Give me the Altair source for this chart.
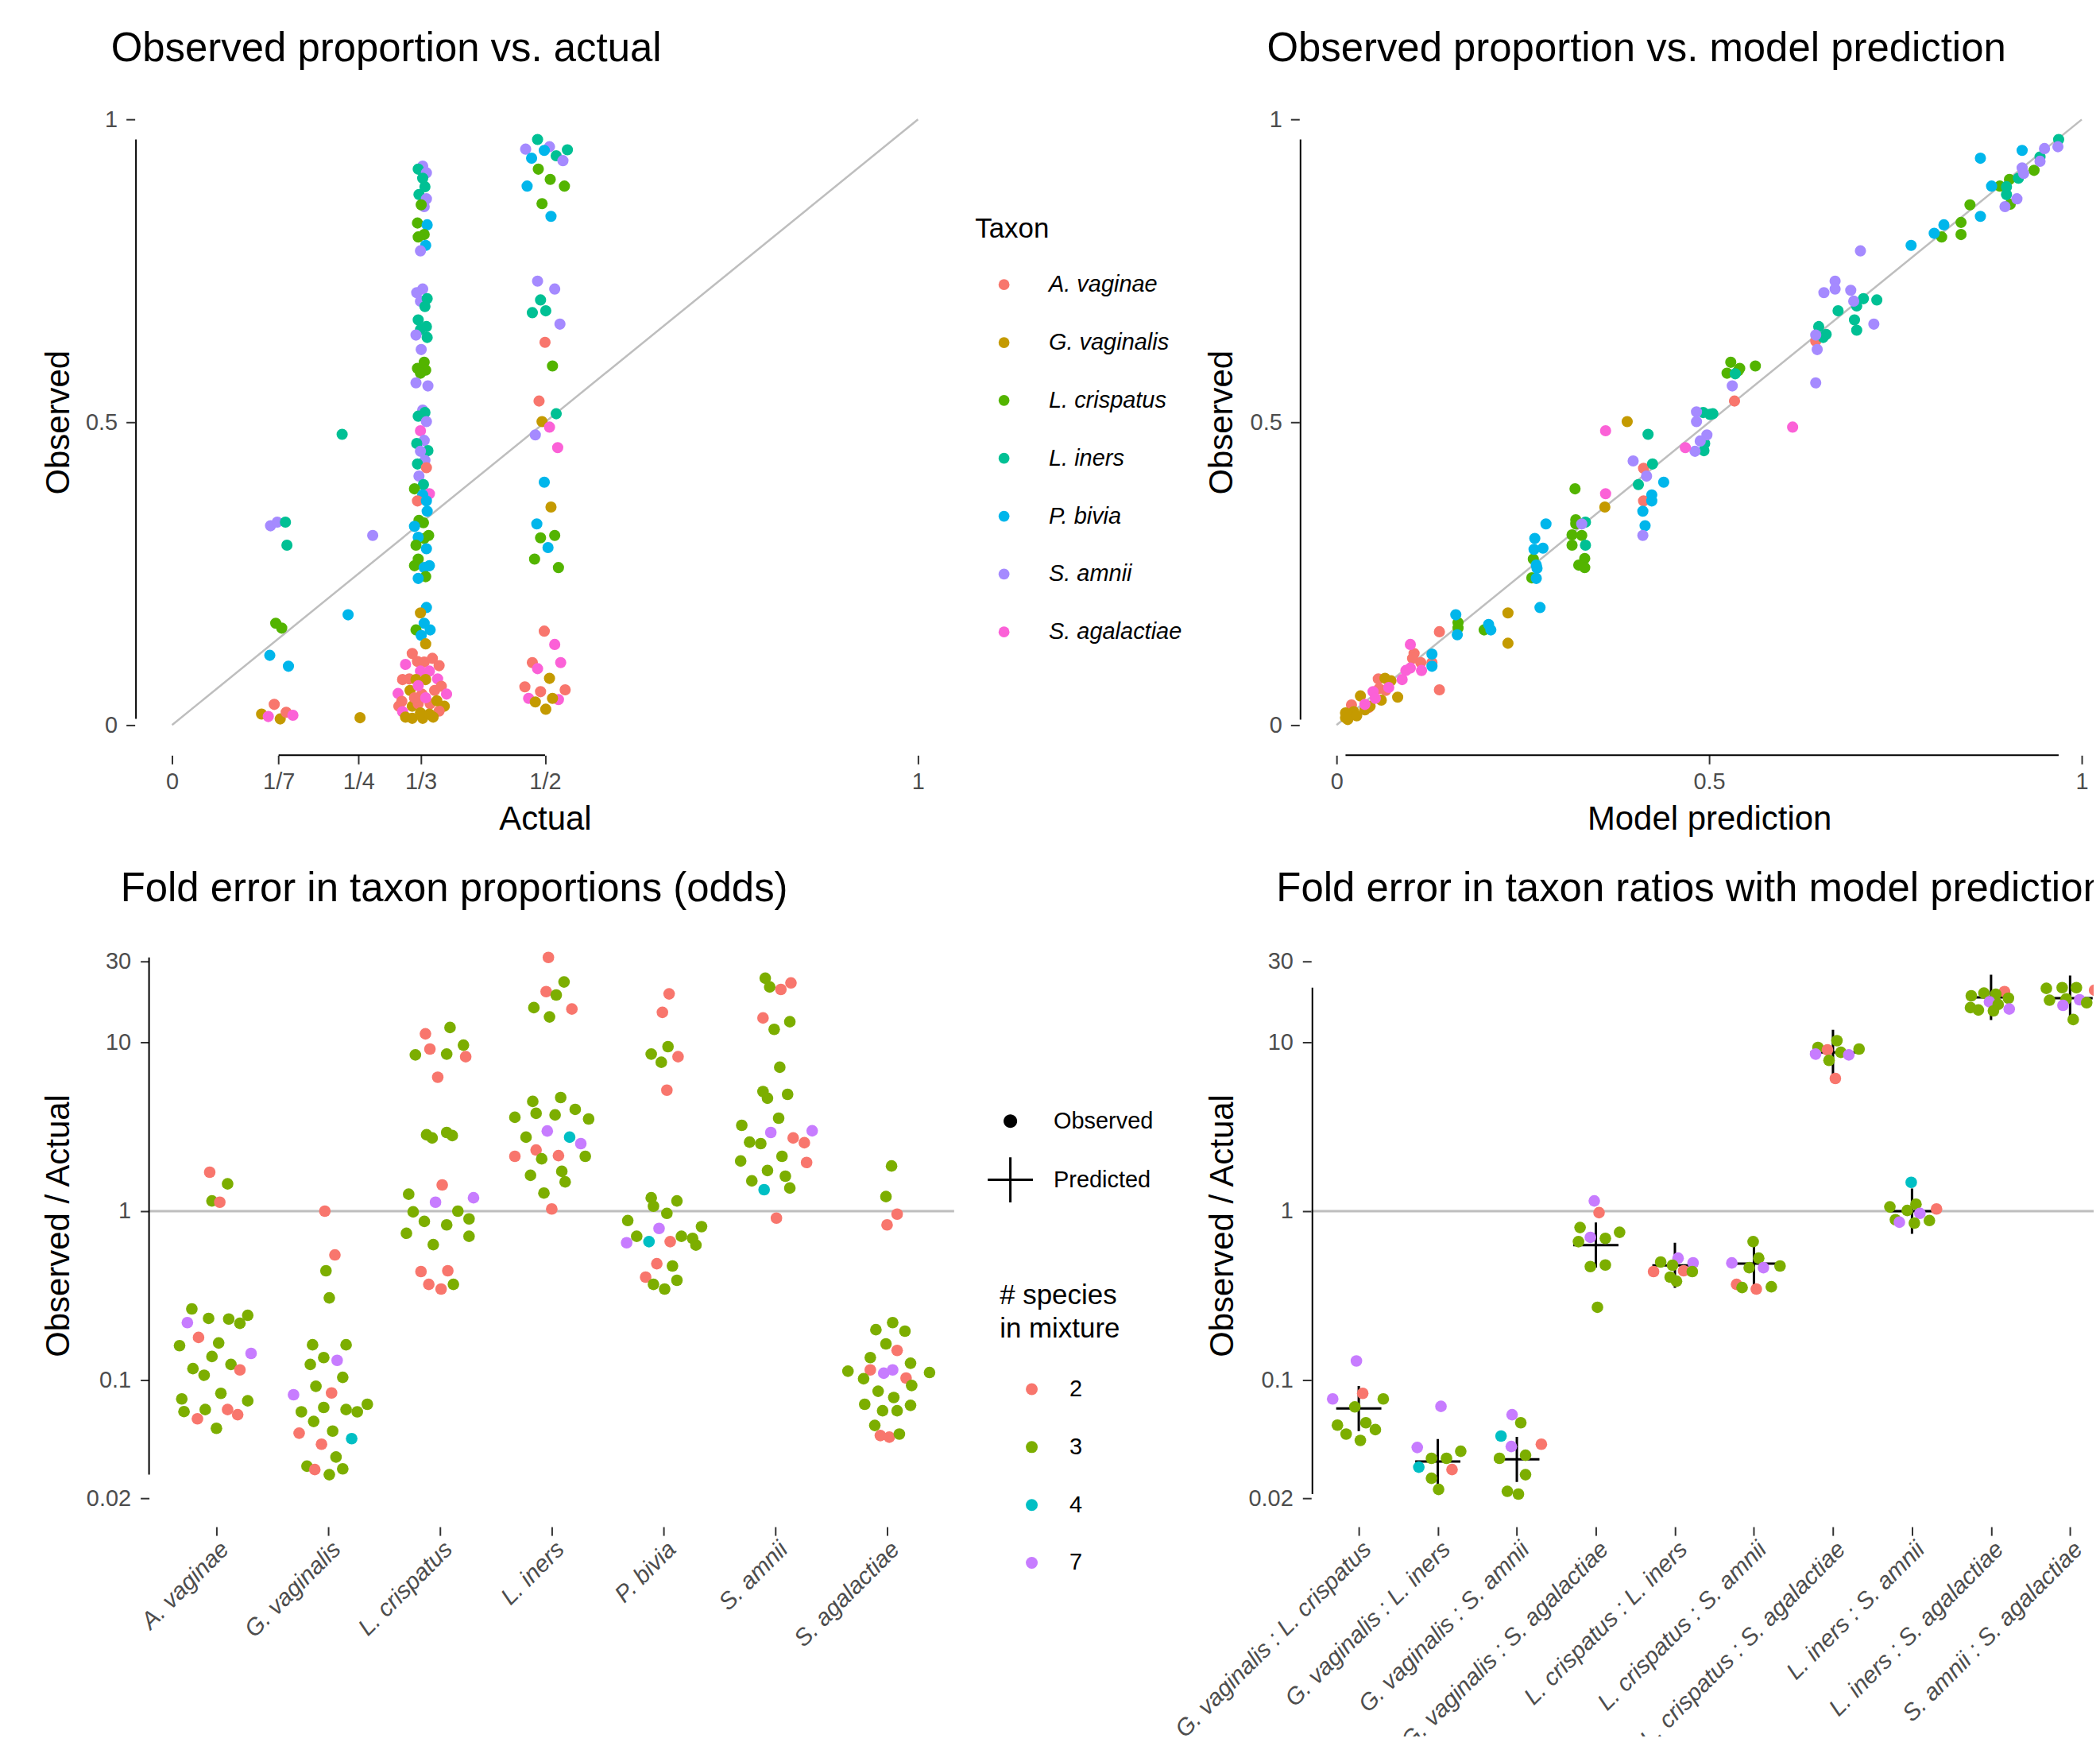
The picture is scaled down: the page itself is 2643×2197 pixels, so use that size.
import altair as alt
import pandas as pd

FONT = "Liberation Sans"
LABEL_GREY = "#4D4D4D"
TICK_GREY = "#333333"
REF_GREY = "#BEBEBE"

# ---------------- categories / palettes ----------------
taxa = ["A. vaginae", "G. vaginalis", "L. crispatus", "L. iners", "P. bivia", "S. amnii", "S. agalactiae"]
taxon_codes = ["AV", "GV", "LC", "LI", "PB", "SA", "SG"]
taxon_colors = ["#F8766D", "#C49A00", "#53B400", "#00C094", "#00B6EB", "#A58AFF", "#FB61D7"]
species_levels = ["2", "3", "4", "7"]
species_colors = ["#F8766D", "#7CAE00", "#00BFC4", "#C77CFF"]
ratios = ["G. vaginalis : L. crispatus", "G. vaginalis : L. iners", "G. vaginalis : S. amnii",
          "G. vaginalis : S. agalactiae", "L. crispatus : L. iners", "L. crispatus : S. amnii",
          "L. crispatus : S. agalactiae", "L. iners : S. amnii", "L. iners : S. agalactiae",
          "S. amnii : S. agalactiae"]
kinds = ["Observed", "Predicted"]
actual_ticks = [0, 1/7, 1/4, 1/3, 1/2, 1]
fold_ticks = [0.02, 0.1, 1, 10, 30]

# ---------------- panel 1: observed vs actual (jittered actual) ----------------
a17_taxon = ["SA", "SA", "LI", "LI", "LC", "LC", "PB", "PB", "AV", "GV", "SG", "GV", "AV", "SG"]
a17_x = [0.132, 0.141, 0.152, 0.154, 0.139, 0.147, 0.131, 0.156, 0.137, 0.120, 0.129, 0.145, 0.153, 0.162]
a17_obs = [0.329, 0.335, 0.335, 0.297, 0.168, 0.160, 0.115, 0.097, 0.034, 0.018, 0.014, 0.010, 0.021, 0.016]

a14_taxon = ["LI", "SA", "PB", "GV"]
a14_x = [0.228, 0.269, 0.236, 0.252]
a14_obs = [0.480, 0.313, 0.182, 0.012]

a13_taxon = ["SA", "LI", "SA", "LI", "LI", "LI", "SA", "SA", "LC", "LC",
             "PB", "LC", "LC", "PB", "SA", "SA", "SA", "SA", "LI", "LI",
             "LI", "LI", "LI", "SA", "LI", "SA", "LC", "LC", "LC", "LC",
             "SA", "SA", "SA", "LI", "LI", "SA", "SG", "SA", "LI", "LI",
             "SA", "SA", "LI", "AV", "SA", "LI", "LC", "SG", "PB", "AV",
             "PB", "PB", "LC", "LC", "PB", "LC", "LC", "PB", "LC", "PB",
             "LC", "LC", "PB", "PB", "LC", "PB", "PB", "GV", "PB", "LC",
             "PB", "PB", "GV",
             "AV", "AV", "AV", "AV", "AV", "SG", "SG", "SG", "AV", "AV",
             "GV", "GV", "SG", "SG", "GV", "AV", "AV", "AV", "SG", "AV",
             "AV", "GV", "AV", "AV", "GV", "SG", "AV", "GV", "GV", "GV",
             "GV", "GV", "GV", "SG", "AV", "GV", "SG"]
a13_x = [0.336, 0.330, 0.341, 0.336, 0.339, 0.331, 0.341, 0.338, 0.334, 0.329,
         0.342, 0.338, 0.330, 0.340, 0.333, 0.336, 0.328, 0.333, 0.342, 0.339,
         0.330, 0.341, 0.333, 0.327, 0.342, 0.334, 0.338, 0.329, 0.340, 0.333,
         0.327, 0.343, 0.336, 0.339, 0.330, 0.341, 0.333, 0.338, 0.328, 0.343,
         0.333, 0.339, 0.329, 0.341, 0.331, 0.337, 0.325, 0.345, 0.336, 0.329,
         0.341, 0.342, 0.331, 0.337, 0.325, 0.344, 0.338, 0.330, 0.327, 0.341,
         0.330, 0.325, 0.345, 0.338, 0.340, 0.330, 0.341, 0.333, 0.338, 0.327,
         0.346, 0.334, 0.340,
         0.322, 0.329, 0.338, 0.349, 0.358, 0.313, 0.333, 0.345, 0.309, 0.318,
         0.327, 0.340, 0.356, 0.303, 0.319, 0.335, 0.352, 0.361, 0.368, 0.308,
         0.304, 0.322, 0.330, 0.346, 0.365, 0.309, 0.358, 0.313, 0.322, 0.336,
         0.350, 0.333, 0.345, 0.330, 0.325, 0.355, 0.340]
a13_obs = [0.923, 0.918, 0.912, 0.903, 0.889, 0.876, 0.869, 0.856, 0.859, 0.829,
           0.826, 0.810, 0.806, 0.792, 0.783, 0.720, 0.714, 0.700, 0.704, 0.691,
           0.669, 0.658, 0.653, 0.644, 0.640, 0.620, 0.599, 0.589, 0.586, 0.581,
           0.565, 0.560, 0.520, 0.516, 0.510, 0.501, 0.486, 0.470, 0.465, 0.453,
           0.452, 0.437, 0.431, 0.425, 0.411, 0.397, 0.390, 0.382, 0.380, 0.370,
           0.370, 0.353, 0.338, 0.334, 0.328, 0.313, 0.308, 0.310, 0.297, 0.291,
           0.274, 0.263, 0.263, 0.260, 0.245, 0.242, 0.194, 0.185, 0.168, 0.157,
           0.157, 0.148, 0.134,
           0.118, 0.105, 0.104, 0.110, 0.098, 0.100, 0.089, 0.089, 0.075, 0.076,
           0.075, 0.075, 0.076, 0.052, 0.057, 0.051, 0.057, 0.064, 0.051, 0.039,
           0.031, 0.031, 0.035, 0.035, 0.031, 0.022, 0.023, 0.013, 0.011, 0.011,
           0.013, 0.020, 0.018, 0.065, 0.045, 0.040, 0.045]

a12_taxon = ["LI", "SA", "SA", "PB", "LI", "PB", "LI", "SA", "LC", "LC",
             "LC", "PB", "LC", "PB", "SA", "SA", "LI", "LI", "LI", "SA",
             "AV", "LC", "AV", "LI", "GV", "SG", "SA", "SG", "PB", "GV",
             "PB", "LC", "LC", "PB", "LC", "LC", "AV", "SG", "SG", "AV",
             "SG", "GV", "AV", "AV", "AV", "SG", "SG", "GV", "GV", "GV"]
a12_x = [0.490, 0.474, 0.506, 0.499, 0.530, 0.482, 0.515, 0.524, 0.491, 0.507,
         0.526, 0.476, 0.496, 0.508, 0.490, 0.513, 0.494, 0.483, 0.501, 0.520,
         0.500, 0.510, 0.492, 0.515, 0.496, 0.506, 0.487, 0.517, 0.499, 0.508,
         0.489, 0.494, 0.513, 0.504, 0.486, 0.518, 0.499, 0.513, 0.521, 0.483,
         0.490, 0.506, 0.473, 0.494, 0.527, 0.478, 0.518, 0.487, 0.510, 0.501]
a12_obs = [0.967, 0.951, 0.955, 0.949, 0.950, 0.936, 0.940, 0.932, 0.918, 0.901,
           0.890, 0.890, 0.861, 0.840, 0.733, 0.720, 0.702, 0.681, 0.684, 0.662,
           0.632, 0.593, 0.535, 0.514, 0.501, 0.492, 0.479, 0.458, 0.401, 0.360,
           0.332, 0.309, 0.313, 0.293, 0.274, 0.260, 0.155, 0.133, 0.103, 0.103,
           0.093, 0.077, 0.063, 0.055, 0.058, 0.044, 0.042, 0.038, 0.044, 0.026]

# ---------------- panel 2: observed vs model prediction (per taxon) ----------------
pred_AV = [0.020, 0.043, 0.056, 0.057, 0.066, 0.104, 0.102, 0.113, 0.128, 0.138, 0.138, 0.412, 0.412, 0.534, 0.643]
obs_AV = [0.033, 0.029, 0.076, 0.060, 0.057, 0.118, 0.110, 0.103, 0.103, 0.154, 0.058, 0.424, 0.370, 0.535, 0.634]
pred_GV = [0.012, 0.018, 0.023, 0.012, 0.032, 0.038, 0.065, 0.073, 0.060, 0.082, 0.230, 0.230, 0.390, 0.360, 0.015, 0.027, 0.045]
obs_GV = [0.012, 0.016, 0.022, 0.020, 0.048, 0.025, 0.077, 0.073, 0.041, 0.046, 0.185, 0.135, 0.501, 0.360, 0.009, 0.015, 0.031]
pred_LC = [0.163, 0.163, 0.198, 0.264, 0.262, 0.320, 0.321, 0.321, 0.316, 0.329, 0.316, 0.333, 0.325, 0.333,
           0.524, 0.529, 0.541, 0.539, 0.562, 0.812, 0.838, 0.838, 0.850, 0.890, 0.903, 0.904, 0.936]
obs_LC = [0.169, 0.160, 0.157, 0.274, 0.243, 0.390, 0.339, 0.332, 0.314, 0.313, 0.297, 0.275, 0.264, 0.260,
          0.581, 0.599, 0.589, 0.585, 0.593, 0.806, 0.830, 0.810, 0.859, 0.890, 0.901, 0.860, 0.916]
pred_LI = [0.334, 0.334, 0.418, 0.424, 0.405, 0.492, 0.501, 0.494, 0.493, 0.505, 0.535, 0.647, 0.657, 0.653,
           0.673, 0.698, 0.707, 0.725, 0.695, 0.698, 0.899, 0.899, 0.915, 0.944, 0.969]
obs_LI = [0.335, 0.297, 0.480, 0.431, 0.397, 0.516, 0.513, 0.465, 0.453, 0.514, 0.580, 0.658, 0.645, 0.640,
          0.684, 0.692, 0.704, 0.702, 0.669, 0.652, 0.889, 0.876, 0.903, 0.938, 0.967]
pred_PB = [0.128, 0.128, 0.160, 0.162, 0.204, 0.207, 0.273, 0.281, 0.266, 0.265, 0.277, 0.268, 0.269, 0.268,
           0.439, 0.423, 0.423, 0.411, 0.414, 0.771, 0.802, 0.815, 0.864, 0.864, 0.879, 0.920]
obs_PB = [0.117, 0.097, 0.182, 0.149, 0.166, 0.157, 0.194, 0.332, 0.308, 0.290, 0.292, 0.264, 0.259, 0.242,
          0.401, 0.380, 0.370, 0.353, 0.329, 0.792, 0.812, 0.826, 0.840, 0.936, 0.890, 0.949]
pred_SA = [0.329, 0.398, 0.416, 0.411, 0.483, 0.483, 0.497, 0.488, 0.481, 0.531, 0.643, 0.645, 0.643, 0.654,
           0.669, 0.669, 0.690, 0.694, 0.721, 0.703, 0.897, 0.913, 0.920, 0.922, 0.944, 0.950, 0.968]
obs_SA = [0.332, 0.436, 0.411, 0.313, 0.517, 0.501, 0.479, 0.469, 0.452, 0.560, 0.644, 0.620, 0.565, 0.714,
          0.733, 0.720, 0.718, 0.700, 0.662, 0.783, 0.856, 0.869, 0.920, 0.911, 0.931, 0.952, 0.955]
pred_SG = [0.038, 0.049, 0.052, 0.088, 0.093, 0.099, 0.099, 0.114, 0.361, 0.361, 0.468, 0.612, 0.070]
obs_SG = [0.034, 0.055, 0.044, 0.075, 0.090, 0.094, 0.133, 0.090, 0.486, 0.382, 0.458, 0.492, 0.062]

# ---------------- panel 3: fold error in proportions (jitter offset, fold, # species) ----------------
off_AV = [-0.06, 0.10, -0.04, 0.03, -0.22, -0.26, -0.07, 0.11, 0.21, 0.28, -0.16, -0.33, 0.02, 0.31, -0.04,
          -0.21, 0.13, -0.11, 0.21, 0.04, -0.31, 0.28, -0.29, -0.10, 0.10, -0.17, 0.19, 0.00]
fold_AV = [1.70, 1.45, 1.15, 1.13, 0.264, 0.219, 0.232, 0.230, 0.217, 0.242, 0.179, 0.160, 0.166, 0.144, 0.138,
           0.117, 0.124, 0.107, 0.115, 0.0836, 0.0775, 0.0755, 0.0652, 0.067, 0.067, 0.0591, 0.0625, 0.0519]
n_AV = [2, 3, 3, 2, 3, 7, 3, 3, 3, 3, 2, 3, 3, 7, 3, 3, 3, 3, 2, 3, 3, 3, 3, 3, 2, 2, 2, 3]

off_GV = [-0.03, 0.06, -0.02, 0.01, -0.14, 0.16, -0.04, 0.08, -0.16, 0.13, -0.11, -0.31, 0.03, -0.24, -0.04,
          0.16, 0.26, 0.35, -0.13, -0.26, 0.04, 0.21, -0.06, 0.07, -0.19, -0.12, 0.13, 0.01]
fold_GV = [1.0, 0.551, 0.444, 0.307, 0.162, 0.162, 0.136, 0.131, 0.124, 0.104, 0.092, 0.082, 0.084, 0.065, 0.069,
           0.067, 0.065, 0.072, 0.057, 0.0486, 0.050, 0.0451, 0.0418, 0.0351, 0.0310, 0.0296, 0.0299, 0.0276]
n_GV = [2, 2, 3, 3, 3, 3, 3, 7, 3, 3, 3, 7, 2, 3, 3, 3, 3, 3, 3, 2, 3, 4, 2, 3, 3, 2, 3, 3]

off_LC = [-0.13, 0.09, -0.09, 0.21, -0.22, 0.06, 0.23, -0.02, -0.12, -0.07, 0.06, 0.11, 0.02, -0.28, -0.04,
          0.30, -0.24, 0.16, -0.14, 0.26, 0.06, -0.30, 0.26, -0.06, -0.17, 0.07, -0.10, 0.12, 0.01]
fold_LC = [11.2, 12.2, 9.1, 9.6, 8.4, 8.5, 8.2, 6.2, 2.83, 2.71, 2.92, 2.80, 1.43, 1.26, 1.13,
           1.20, 0.99, 1.0, 0.87, 0.90, 0.83, 0.74, 0.71, 0.634, 0.439, 0.444, 0.369, 0.369, 0.346]
n_LC = [2, 3, 2, 3, 3, 3, 2, 2, 3, 3, 3, 3, 2, 3, 7, 7, 3, 3, 3, 3, 3, 3, 3, 3, 2, 2, 2, 3, 2]

off_LI = [-0.03, -0.05, 0.04, -0.16, -0.02, 0.11, 0.18, 0.08, -0.17, 0.21, -0.33, -0.14, 0.03, 0.33, -0.04,
          -0.23, 0.16, 0.26, -0.14, -0.33, 0.06, -0.09, 0.30, -0.19, 0.09, 0.12, -0.07, 0.00]
fold_LI = [31.7, 19.9, 19.0, 16.0, 14.1, 22.7, 15.7, 4.70, 4.46, 4.0, 3.59, 3.79, 3.71, 3.51, 2.98,
           2.74, 2.74, 2.51, 2.30, 2.11, 2.13, 2.04, 2.11, 1.63, 1.72, 1.49, 1.28, 1.03]
n_LI = [2, 2, 3, 3, 3, 3, 2, 3, 3, 3, 3, 3, 3, 3, 7, 3, 4, 7, 2, 2, 2, 3, 3, 3, 3, 3, 3, 2]

off_PB = [0.05, -0.01, 0.04, -0.11, 0.13, -0.02, 0.03, -0.11, -0.09, 0.12, 0.03, -0.32, -0.04, -0.24, -0.33,
          -0.13, 0.06, 0.16, 0.26, 0.34, 0.29, -0.06, 0.08, -0.16, 0.12, -0.09, 0.01]
fold_PB = [19.3, 15.0, 9.4, 8.5, 8.2, 7.6, 5.2, 1.20, 1.07, 1.15, 0.97, 0.88, 0.79, 0.71, 0.65,
           0.66, 0.66, 0.71, 0.69, 0.81, 0.63, 0.489, 0.474, 0.407, 0.390, 0.369, 0.346]
n_PB = [2, 2, 3, 3, 2, 3, 2, 3, 3, 3, 3, 3, 7, 3, 7, 4, 2, 3, 3, 3, 3, 2, 3, 2, 3, 3, 3]

off_SA = [-0.09, -0.05, 0.05, 0.14, -0.11, 0.13, -0.01, 0.04, -0.11, -0.07, 0.11, 0.03, -0.30, -0.04, 0.16,
          0.33, 0.26, -0.23, -0.13, -0.31, 0.06, 0.28, -0.07, -0.21, 0.09, -0.10, 0.13, 0.01]
fold_SA = [23.9, 21.2, 20.5, 22.4, 13.9, 13.2, 11.9, 7.1, 5.1, 4.66, 4.91, 3.55, 3.22, 2.92, 2.71,
           2.99, 2.54, 2.56, 2.51, 1.98, 2.11, 1.94, 1.74, 1.51, 1.61, 1.34, 1.37, 0.91]
n_SA = [3, 3, 2, 2, 2, 3, 3, 3, 3, 3, 3, 3, 3, 7, 2, 7, 2, 3, 3, 3, 3, 2, 3, 3, 3, 4, 3, 2]

off_SG = [0.04, -0.01, 0.09, 0.00, 0.05, -0.10, 0.16, -0.01, 0.09, -0.15, 0.21, -0.35, -0.15, -0.03, 0.05,
          0.38, -0.21, 0.17, 0.22, -0.08, 0.06, -0.20, 0.21, -0.04, 0.09, -0.11, -0.06, 0.02, 0.11]
fold_SG = [1.85, 1.22, 0.96, 0.83, 0.219, 0.199, 0.195, 0.164, 0.150, 0.136, 0.126, 0.113, 0.115, 0.110, 0.115,
           0.111, 0.102, 0.103, 0.093, 0.086, 0.079, 0.072, 0.071, 0.066, 0.066, 0.054, 0.047, 0.046, 0.048]
n_SG = [3, 3, 2, 2, 3, 3, 3, 3, 2, 3, 3, 3, 2, 7, 7, 3, 3, 2, 3, 3, 3, 3, 3, 3, 3, 3, 2, 2, 3]

# ---------------- panel 4: fold error in ratios (jitter offset, fold, # species) + prediction ----------------
off_r1 = [-0.03, -0.33, 0.05, 0.31, -0.05, -0.27, 0.09, 0.21, -0.16, 0.02]
fold_r1 = [0.130, 0.0775, 0.0836, 0.0775, 0.0695, 0.0542, 0.056, 0.051, 0.048, 0.044]
n_r1 = [7, 7, 2, 3, 3, 3, 3, 3, 3, 3]
off_r2 = [0.04, -0.26, 0.29, -0.08, 0.11, -0.24, 0.18, -0.08, 0.01]
fold_r2 = [0.070, 0.040, 0.038, 0.0345, 0.0345, 0.0306, 0.0296, 0.0263, 0.0226]
n_r2 = [7, 7, 3, 3, 3, 4, 2, 3, 3]
off_r3 = [-0.06, 0.05, -0.20, -0.07, 0.31, -0.22, 0.11, 0.11, -0.12, 0.02]
fold_r3 = [0.0625, 0.056, 0.0467, 0.0405, 0.0418, 0.0345, 0.036, 0.0276, 0.022, 0.0212]
n_r3 = [7, 3, 4, 7, 2, 3, 3, 3, 3, 3]
off_r4 = [-0.02, 0.04, -0.20, 0.30, -0.07, 0.12, -0.22, -0.07, 0.12, 0.02]
fold_r4 = [1.15, 0.98, 0.80, 0.75, 0.70, 0.69, 0.66, 0.47, 0.48, 0.27]
n_r4 = [7, 2, 3, 3, 7, 3, 3, 3, 3, 3]
off_r5 = [0.04, 0.23, -0.18, -0.03, -0.27, 0.11, 0.22, -0.06, 0.02]
fold_r5 = [0.527, 0.495, 0.50, 0.479, 0.439, 0.444, 0.439, 0.407, 0.385]
n_r5 = [7, 7, 3, 3, 2, 2, 3, 3, 3]
off_r6 = [-0.01, -0.28, 0.06, -0.06, 0.12, 0.33, -0.22, -0.15, 0.03, 0.22]
fold_r6 = [0.66, 0.494, 0.527, 0.463, 0.463, 0.474, 0.369, 0.353, 0.346, 0.357]
n_r6 = [3, 7, 3, 3, 7, 3, 2, 3, 2, 3]
off_r7 = [-0.19, 0.05, -0.07, -0.22, 0.10, 0.20, 0.33, -0.05, 0.03]
fold_r7 = [9.3, 10.2, 9.0, 8.5, 8.7, 8.4, 9.1, 7.8, 6.1]
n_r7 = [3, 3, 2, 7, 3, 7, 3, 3, 2]
off_r8 = [-0.01, 0.05, -0.28, -0.06, 0.31, 0.10, -0.21, -0.16, 0.03, 0.22]
fold_r8 = [1.48, 1.10, 1.06, 1.01, 1.03, 0.97, 0.89, 0.86, 0.85, 0.88]
n_r8 = [4, 3, 3, 3, 2, 7, 3, 7, 3, 3]
off_r9 = [-0.25, -0.09, 0.17, 0.06, 0.22, -0.02, -0.26, -0.16, 0.09, 0.03, 0.23]
fold_r9 = [18.8, 19.5, 19.9, 19.2, 18.2, 17.3, 16.0, 15.5, 16.7, 15.3, 15.7]
n_r9 = [3, 3, 2, 3, 3, 7, 3, 3, 3, 3, 7]
off_r10 = [-0.30, -0.10, 0.08, 0.31, -0.26, -0.05, -0.09, 0.12, 0.21, 0.04]
fold_r10 = [20.8, 21.0, 21.0, 20.3, 17.7, 18.0, 16.5, 17.8, 17.1, 13.6]
n_r10 = [3, 3, 3, 2, 3, 3, 7, 7, 3, 3]
pred_ratio = [0.068, 0.033, 0.034, 0.63, 0.478, 0.49, 8.7, 1.0, 18.4, 18.2]

# ---------------- build tables ----------------
code_to_taxon = dict(zip(taxon_codes, taxa))

rows = []
for act, tx, xx, ob in [(1/7, a17_taxon, a17_x, a17_obs), (1/4, a14_taxon, a14_x, a14_obs),
                        (1/3, a13_taxon, a13_x, a13_obs), (1/2, a12_taxon, a12_x, a12_obs)]:
    assert len(tx) == len(xx) == len(ob)
    for t, x, o in zip(tx, xx, ob):
        rows.append({"taxon": code_to_taxon[t], "actual": act, "xj": x, "obs": o})
p1 = pd.DataFrame(rows)

rows = []
for code, pr, ob in [("AV", pred_AV, obs_AV), ("GV", pred_GV, obs_GV), ("LC", pred_LC, obs_LC),
                     ("LI", pred_LI, obs_LI), ("PB", pred_PB, obs_PB), ("SA", pred_SA, obs_SA),
                     ("SG", pred_SG, obs_SG)]:
    assert len(pr) == len(ob)
    for p, o in zip(pr, ob):
        rows.append({"taxon": code_to_taxon[code], "pred": p, "obs": o})
p2 = pd.DataFrame(rows)

rows = []
for i, (off, fold, nn) in enumerate([(off_AV, fold_AV, n_AV), (off_GV, fold_GV, n_GV), (off_LC, fold_LC, n_LC),
                                     (off_LI, fold_LI, n_LI), (off_PB, fold_PB, n_PB), (off_SA, fold_SA, n_SA),
                                     (off_SG, fold_SG, n_SG)]):
    assert len(off) == len(fold) == len(nn)
    for o, f, n in zip(off, fold, nn):
        rows.append({"cat": i + 1, "off": o, "fold": f, "n": str(n)})
p3 = pd.DataFrame(rows)

rows = []
ratio_sets = [(off_r1, fold_r1, n_r1), (off_r2, fold_r2, n_r2), (off_r3, fold_r3, n_r3), (off_r4, fold_r4, n_r4),
              (off_r5, fold_r5, n_r5), (off_r6, fold_r6, n_r6), (off_r7, fold_r7, n_r7), (off_r8, fold_r8, n_r8),
              (off_r9, fold_r9, n_r9), (off_r10, fold_r10, n_r10)]
for i, (off, fold, nn) in enumerate(ratio_sets):
    assert len(off) == len(fold) == len(nn)
    for o, f, n in zip(off, fold, nn):
        rows.append({"cat": i + 1, "off": o, "fold": f, "n": str(n)})
p4 = pd.DataFrame(rows)
p4pred = pd.DataFrame({"cat": list(range(1, 11)), "fold": pred_ratio, "kind": ["Predicted"] * 10})

diag = pd.DataFrame({"ref_a": [0, 1], "ref_b": [0, 1]})
hline3 = pd.DataFrame({"lo": [0.4], "hi": [7.6], "one": [1]})
hline4 = pd.DataFrame({"lo": [0.4], "hi": [10.6], "one": [1]})

# ---------------- geometry ----------------
W1, H1 = 1035, 840
W2 = 1034
W3, H3 = 1034, 747
W4 = 1032

unit_scale = alt.Scale(domain=[-0.05, 1.05], nice=False, zero=False)
fold_scale = alt.Scale(type="log", domain=[0.01358, 43.35], nice=False)
x3_scale = alt.Scale(domain=[0.2695, 7.603], nice=False, zero=False)
x4_scale = alt.Scale(domain=[0.2477, 10.599], nice=False, zero=False)

frac_expr = ("datum.value < 0.01 ? '0' : datum.value < 0.2 ? '1/7' : datum.value < 0.3 ? '1/4' : "
             "datum.value < 0.4 ? '1/3' : datum.value < 0.6 ? '1/2' : '1'")

def yaxis_unit(tx):
    return alt.Axis(values=[0, 0.5, 1], format="~g", tickSize=11, labelPadding=11,
                    titleX=tx, titleY=H1 / 2, titleAngle=270, titleBaseline="middle",
                    titleAlign="center", labelOverlap=False)

ax_x1 = alt.Axis(values=actual_ticks, labelExpr=frac_expr, labelOverlap=False, labelFlush=False,
                 tickSize=11, labelPadding=8, titleY=80, titleBaseline="middle")
ax_y1 = yaxis_unit(-96)
ax_x2 = alt.Axis(values=[0, 0.5, 1], format="~g", labelOverlap=False, labelFlush=False,
                 tickSize=11, labelPadding=8, titleY=80, titleBaseline="middle", titleX=517)
ax_y2 = yaxis_unit(-98)

def fold_axis(tx, off):
    return alt.Axis(values=fold_ticks, format="~g", tickSize=11, labelPadding=12, offset=off,
                    titleX=tx, titleY=367, titleAngle=270, titleBaseline="middle", titleAlign="center",
                    labelOverlap=False)

def cat_axis(names):
    arr = "[" + ",".join("'" + s + "'" for s in names) + "]"
    return alt.Axis(values=list(range(1, len(names) + 1)), labelExpr=arr + "[datum.value - 1]",
                    labelAngle=315, labelAlign="right", labelBaseline="top", labelFontStyle="italic",
                    labelFontSize=30, labelPadding=2, tickSize=11, labelOverlap=False, labelFlush=False,
                    labelLimit=1000, title=None)

ax_x3 = cat_axis(taxa)
ax_x4 = cat_axis(ratios)
ax_y3 = fold_axis(-114, -18)
ax_y4 = fold_axis(-112, -15)

def panel_title(text, dx, offset):
    return alt.TitleParams(text, anchor="start", frame="group", dx=dx, offset=offset, fontSize=51,
                           font=FONT, fontWeight="normal", color="black")

taxon_legend = alt.Legend(title="Taxon", orient="none", legendX=1060, legendY=159, direction="vertical",
                          titleFontSize=35, titleFontWeight="normal", titleColor="black", titlePadding=38,
                          labelFontSize=29, labelFontStyle="italic", labelColor="black", labelOffset=42,
                          labelLimit=1000, symbolType="circle", symbolSize=190, symbolStrokeWidth=0,
                          symbolOffset=22, rowPadding=43, padding=0)
species_legend = alt.Legend(title=["# species", "in mixture"], orient="none", legendX=-378, legendY=438,
                            direction="vertical", titleFontSize=35, titleLineHeight=42,
                            titleFontWeight="normal", titleColor="black", titlePadding=44,
                            labelFontSize=29, labelColor="black", labelOffset=33, labelLimit=1000,
                            symbolType="circle", symbolSize=225, symbolStrokeWidth=0, symbolOffset=26,
                            rowPadding=43, padding=0)
kind_legend = alt.Legend(title=None, orient="none", legendX=-393, legendY=207, direction="vertical",
                         labelFontSize=29, labelColor="black", labelOffset=26, labelLimit=1000, symbolOffset=0,
                         symbolSize=3249, symbolFillColor="black", symbolStrokeWidth=0,
                         rowPadding=30, padding=0)

# ---------------- panel 1 ----------------
p1_diag = alt.Chart(diag).mark_line(color=REF_GREY, strokeWidth=2.5).encode(
    x=alt.X("ref_a:Q", scale=unit_scale, axis=ax_x1, title="Actual"),
    y=alt.Y("ref_b:Q", scale=unit_scale, axis=ax_y1, title="Observed"))
p1_rfy = alt.Chart(p1).mark_rule(color="black", strokeWidth=2).encode(
    x=alt.value(1.5),
    y=alt.Y("min(obs):Q", scale=unit_scale, axis=ax_y1, title="Observed"), y2="max(obs):Q")
p1_rfx = alt.Chart(p1).mark_rule(color="black", strokeWidth=2).encode(
    y=alt.value(H1),
    x=alt.X("min(actual):Q", scale=unit_scale, axis=ax_x1, title="Actual"), x2="max(actual):Q")
p1_pts = alt.Chart(p1).mark_circle(size=200, opacity=1).encode(
    x=alt.X("xj:Q", scale=unit_scale, axis=ax_x1, title="Actual"),
    y=alt.Y("obs:Q", scale=unit_scale, axis=ax_y1, title="Observed"),
    color=alt.Color("taxon:N", scale=alt.Scale(domain=taxa, range=taxon_colors), legend=taxon_legend))
panel1 = alt.layer(p1_diag, p1_rfy, p1_rfx, p1_pts).properties(
    width=W1, height=H1, title=panel_title("Observed proportion vs. actual", -30, 24))

# ---------------- panel 2 ----------------
p2_diag = alt.Chart(diag).mark_line(color=REF_GREY, strokeWidth=2.5).encode(
    x=alt.X("ref_a:Q", scale=unit_scale, axis=ax_x2, title="Model prediction"),
    y=alt.Y("ref_b:Q", scale=unit_scale, axis=ax_y2, title="Observed"))
p2_rfy = alt.Chart(p2).mark_rule(color="black", strokeWidth=2).encode(
    x=alt.value(1.5),
    y=alt.Y("min(obs):Q", scale=unit_scale, axis=ax_y2, title="Observed"), y2="max(obs):Q")
p2_rfx = alt.Chart(p2).mark_rule(color="black", strokeWidth=2).encode(
    y=alt.value(H1),
    x=alt.X("min(pred):Q", scale=unit_scale, axis=ax_x2, title="Model prediction"), x2="max(pred):Q")
p2_pts = alt.Chart(p2).mark_circle(size=200, opacity=1).encode(
    x=alt.X("pred:Q", scale=unit_scale, axis=ax_x2, title="Model prediction"),
    y=alt.Y("obs:Q", scale=unit_scale, axis=ax_y2, title="Observed"),
    color=alt.Color("taxon:N", scale=alt.Scale(domain=taxa, range=taxon_colors), legend=None))
panel2 = alt.layer(p2_diag, p2_rfy, p2_rfx, p2_pts).properties(
    width=W2, height=H1, title=panel_title("Observed proportion vs. model prediction", -41, 24))

# ---------------- panel 3 ----------------
p3_h = alt.Chart(hline3).mark_rule(color=REF_GREY, strokeWidth=3).encode(
    x=alt.X("lo:Q", scale=x3_scale, axis=ax_x3), x2="hi:Q",
    y=alt.Y("one:Q", scale=fold_scale, axis=ax_y3, title="Observed / Actual"))
p3_rf = alt.Chart(p3).mark_rule(color="black", strokeWidth=2).encode(
    x=alt.value(18),
    y=alt.Y("min(fold):Q", scale=fold_scale, axis=ax_y3, title="Observed / Actual"), y2="max(fold):Q")
p3_pts = alt.Chart(p3).transform_calculate(pos="datum.cat + datum.off").mark_circle(size=215, opacity=1).encode(
    x=alt.X("pos:Q", scale=x3_scale, axis=ax_x3),
    y=alt.Y("fold:Q", scale=fold_scale, axis=ax_y3, title="Observed / Actual"),
    color=alt.Color("n:N", scale=alt.Scale(domain=species_levels, range=species_colors), legend=None))
panel3 = alt.layer(p3_h, p3_rf, p3_pts).properties(
    width=W3, height=H3, title=panel_title("Fold error in taxon proportions (odds)", -18, 31))

# ---------------- panel 4 ----------------
# filled symbol outlines in a 57 px box: a small dot (observed) and a thin plus (predicted)
DOT_PATH = "M0.3,0A0.3,0.3,0,1,1,-0.3,0A0.3,0.3,0,1,1,0.3,0Z"
PLUS_PATH = ("M-1,-0.053L-0.053,-0.053L-0.053,-1L0.053,-1L0.053,-0.053L1,-0.053L1,0.053"
             "L0.053,0.053L0.053,1L-0.053,1L-0.053,0.053L-1,0.053Z")
kind_shape = alt.Scale(domain=kinds, range=[DOT_PATH, PLUS_PATH])
p4_h = alt.Chart(hline4).mark_rule(color=REF_GREY, strokeWidth=3, clip=True).encode(
    x=alt.X("lo:Q", scale=x4_scale, axis=ax_x4), x2="hi:Q",
    y=alt.Y("one:Q", scale=fold_scale, axis=ax_y4, title="Observed / Actual"))
p4_rf = alt.Chart(p4).mark_rule(color="black", strokeWidth=2).encode(
    x=alt.value(16.5),
    y=alt.Y("min(fold):Q", scale=fold_scale, axis=ax_y4, title="Observed / Actual"), y2="max(fold):Q")
p4_cross = alt.Chart(p4pred).mark_point(filled=True, color="black", strokeWidth=0,
                                        opacity=1, size=3249).encode(
    x=alt.X("cat:Q", scale=x4_scale, axis=ax_x4),
    y=alt.Y("fold:Q", scale=fold_scale, axis=ax_y4, title="Observed / Actual"),
    shape=alt.Shape("kind:N", scale=kind_shape, legend=kind_legend))
p4_pts = alt.Chart(p4).transform_calculate(pos="datum.cat + datum.off").mark_circle(
    size=215, opacity=1, clip=True).encode(
    x=alt.X("pos:Q", scale=x4_scale, axis=ax_x4),
    y=alt.Y("fold:Q", scale=fold_scale, axis=ax_y4, title="Observed / Actual"),
    color=alt.Color("n:N", scale=alt.Scale(domain=species_levels, range=species_colors), legend=species_legend))
panel4 = alt.layer(p4_h, p4_rf, p4_cross, p4_pts).properties(
    width=W4, height=H3, title=panel_title("Fold error in taxon ratios with model prediction", -29, 31))

res = dict(x="independent", y="independent", color="independent", shape="independent")
chart = alt.concat(panel1, panel2, panel3, panel4, columns=2, spacing={"row": 226, "column": 434},
                   bounds="flush").resolve_scale(**res).properties(
    padding={"left": 45, "top": 26, "right": -32, "bottom": -24}
).configure(font=FONT).configure_view(stroke=None).configure_axis(
    domain=False, grid=False, labelFont=FONT, titleFont=FONT, labelColor=LABEL_GREY, labelFontSize=29,
    tickColor=TICK_GREY, tickWidth=2, titleFontSize=42, titleFontWeight="normal", titleColor="black"
).configure_legend(titleFont=FONT, labelFont=FONT).configure_title(font=FONT, fontWeight="normal")

chart.save("out.html", embed_options={"renderer": "svg", "actions": False})
